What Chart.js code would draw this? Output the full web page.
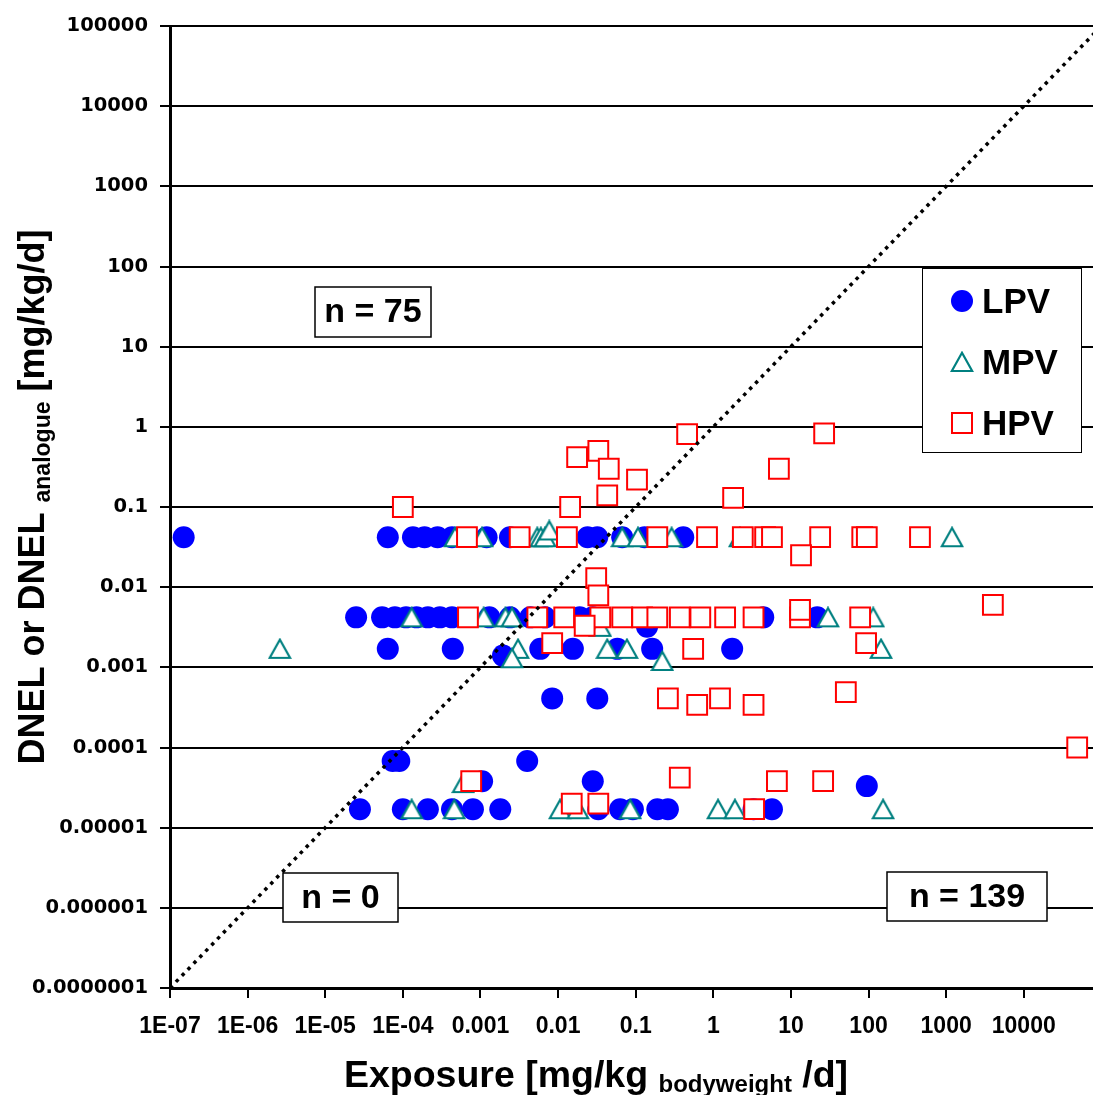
<!DOCTYPE html>
<html><head><meta charset="utf-8">
<script src="https://cdn.jsdelivr.net/npm/chart.js@4/dist/chart.umd.min.js"></script>
<style>html,body{margin:0;padding:0;background:#fff;overflow:hidden}#wrap{width:1093px;height:1095px;position:relative}canvas{display:block}</style>
</head><body><div id="wrap"><canvas id="c" width="1093" height="1095"></canvas></div>
<script>
// ---------- data ----------
const seriesNames = ["LPV", "MPV", "HPV"];

const lpvX = [1.5e-7, 6.4e-5, 1.35e-4, 1.9e-4, 2.8e-4, 4.3e-4, 1.2e-3, 2.4e-3, 0.024, 0.032, 0.067, 0.13, 0.41,
  2.5e-5, 5.4e-5, 7.9e-5, 1.1e-4, 1.5e-4, 2.1e-4, 3.0e-4, 4.3e-4, 1.3e-3, 2.4e-3, 4.4e-3, 6.8e-3, 0.019, 0.028, 4.4, 21.8,
  0.14, 6.4e-5, 4.4e-4, 1.95e-3, 5.9e-3, 0.0155, 0.058, 0.163, 1.75,
  8.4e-3, 0.032, 7.4e-5, 9.0e-5, 4.0e-3, 1.05e-3, 0.028, 95,
  2.8e-5, 1.0e-4, 2.1e-4, 4.3e-4, 8.0e-4, 1.8e-3, 0.033, 0.063, 0.092, 0.19, 0.26, 3.3, 5.7];
const lpvY = [0.042, 0.042, 0.042, 0.042, 0.042, 0.042, 0.042, 0.042, 0.042, 0.042, 0.042, 0.042, 0.042,
  0.0042, 0.0042, 0.0042, 0.0042, 0.0042, 0.0042, 0.0042, 0.0042, 0.0042, 0.0042, 0.0042, 0.0042, 0.0042, 0.0042, 0.0042, 0.0042,
  0.0032, 0.0017, 0.0017, 0.0014, 0.0017, 0.0017, 0.0017, 0.0017, 0.0017,
  4.1e-4, 4.1e-4, 6.8e-5, 6.8e-5, 6.8e-5, 3.8e-5, 3.8e-5, 3.3e-5,
  1.7e-5, 1.7e-5, 1.7e-5, 1.7e-5, 1.7e-5, 1.7e-5, 1.7e-5, 1.7e-5, 1.7e-5, 1.7e-5, 1.7e-5, 1.7e-5, 1.7e-5];

const mpvX = [4.7e-4, 1.05e-3, 5.4e-3, 6.0e-3, 6.8e-3, 7.7e-3, 0.067, 0.107, 0.29, 2.2, 1190,
  1.3e-4, 1.1e-3, 2.1e-3, 2.55e-3, 30, 115, 0.035,
  2.6e-6, 3.05e-3, 2.55e-3, 0.043, 0.077, 0.22, 145,
  6.0e-4,
  1.3e-4, 4.6e-4, 0.0106, 0.018, 0.085, 1.15, 1.9, 154];
const mpvY = [0.042, 0.042, 0.042, 0.042, 0.042, 0.051, 0.042, 0.042, 0.042, 0.042, 0.042,
  0.0042, 0.0042, 0.0042, 0.0042, 0.0042, 0.0042, 0.0032,
  0.0017, 0.0017, 0.0013, 0.0017, 0.0017, 0.0012, 0.0017,
  3.6e-5,
  1.7e-5, 1.7e-5, 1.7e-5, 1.7e-5, 1.7e-5, 1.7e-5, 1.7e-5, 1.7e-5];

const hpvX = [1.0e-4, 0.0176, 0.033, 0.045, 0.104, 0.043, 0.0143, 0.46, 1.8, 7.0, 26.8,
  6.7e-4, 3.2e-3, 0.013, 0.19, 0.83, 2.4, 4.65, 5.7, 23.8, 83, 95, 460,
  13.5,
  6.9e-4, 5.4e-3, 0.012, 0.035, 0.067, 0.121, 0.19, 0.37, 0.68, 1.42, 3.3, 13.1, 78,
  13.1, 0.022, 0.031, 0.033, 8.4e-3, 0.55, 93, 4000,
  0.26, 0.62, 1.22, 3.3, 51, 48800,
  7.6e-4, 0.37, 6.6, 26,
  0.015, 0.033, 3.36];
const hpvY = [0.10, 0.42, 0.50, 0.30, 0.22, 0.14, 0.10, 0.81, 0.13, 0.30, 0.83,
  0.042, 0.042, 0.042, 0.042, 0.042, 0.042, 0.042, 0.042, 0.042, 0.042, 0.042, 0.042,
  0.025,
  0.0042, 0.0042, 0.0042, 0.0042, 0.0042, 0.0042, 0.0042, 0.0042, 0.0042, 0.0042, 0.0042, 0.0042, 0.0042,
  0.0052, 0.0033, 0.013, 0.0079, 0.0020, 0.0017, 0.0020, 0.006,
  4.1e-4, 3.4e-4, 4.1e-4, 3.4e-4, 4.9e-4, 1.0e-4,
  3.8e-5, 4.2e-5, 3.8e-5, 3.8e-5,
  2.0e-5, 2.0e-5, 1.7e-5];

// 1:1 reference line (DNEL = exposure)
const refLine = [1e-7, 1e5];

const xTickVals = [1e-7, 1e-6, 1e-5, 1e-4, 1e-3, 1e-2, 1e-1, 1, 10, 100, 1000, 10000];
const xTickLabels = ["1E-07", "1E-06", "1E-05", "1E-04", "0.001", "0.01", "0.1", "1", "10", "100", "1000", "10000"];
const yTickVals = [1e-7, 1e-6, 1e-5, 1e-4, 1e-3, 1e-2, 1e-1, 1, 10, 100, 1000, 10000, 100000];
const yTickLabels = ["0.0000001", "0.000001", "0.00001", "0.0001", "0.001", "0.01", "0.1", "1", "10", "100", "1000", "10000", "100000"];

const countLabels = ["n = 75", "n = 0", "n = 139"];
const xTitleParts = ["Exposure [mg/kg ", "bodyweight", " /d]"];
const yTitleParts = ["DNEL or DNEL ", "analogue", " [mg/kg/d]"];

// ---------- styles ----------
const BLUE = "#0000FF", TEAL = "#008080", RED = "#FF0000";
function triCanvas() {
  const c = document.createElement("canvas");
  c.width = 24; c.height = 22;
  const g = c.getContext("2d");
  g.lineWidth = 2.2; g.strokeStyle = TEAL; g.fillStyle = "#fff"; g.lineJoin = "miter";
  g.beginPath(); g.moveTo(12, 1.8); g.lineTo(22.2, 20); g.lineTo(1.8, 20); g.closePath();
  g.fill(); g.stroke();
  return c;
}
const triImg = triCanvas();

const zip = (xs, ys) => xs.map((x, i) => ({ x: x, y: ys[i] }));

const FONT = "'Liberation Sans', Arial, sans-serif";

const overlay = {
  id: "overlay",
  afterDatasetsDraw(chart) {
    const ctx = chart.ctx;
    ctx.save();
    // count boxes
    const boxes = [[315, 287, 116, 50], [283, 873, 115, 49], [887, 872, 160, 49]];
    ctx.font = "bold 34px " + FONT;
    ctx.textAlign = "center"; ctx.textBaseline = "middle";
    boxes.forEach((b, i) => {
      ctx.fillStyle = "#fff"; ctx.fillRect(b[0], b[1], b[2], b[3]);
      ctx.strokeStyle = "#000"; ctx.lineWidth = 1.5; ctx.strokeRect(b[0], b[1], b[2], b[3]);
      ctx.fillStyle = "#000"; ctx.fillText(countLabels[i], b[0] + b[2] / 2, b[1] + b[3] / 2 + 1);
    });
    // legend
    ctx.fillStyle = "#fff"; ctx.fillRect(922, 268, 159, 184);
    ctx.strokeStyle = "#000"; ctx.lineWidth = 1; ctx.strokeRect(922.5, 268.5, 159, 184);
    const ly = [301, 362, 423];
    ctx.fillStyle = BLUE; ctx.beginPath(); ctx.arc(962, ly[0], 11, 0, Math.PI * 2); ctx.fill();
    ctx.drawImage(triImg, 962 - 12, ly[1] - 11);
    ctx.fillStyle = "#fff"; ctx.fillRect(952, ly[2] - 10, 20, 20);
    ctx.strokeStyle = RED; ctx.lineWidth = 2; ctx.strokeRect(952, ly[2] - 10, 20, 20);
    ctx.fillStyle = "#000"; ctx.font = "bold 35px " + FONT; ctx.textAlign = "left"; ctx.textBaseline = "alphabetic";
    seriesNames.forEach((n, i) => ctx.fillText(n, 982, ly[i] + 12));

    // x title
    const big = "bold 37.5px " + FONT, small = "bold 24px " + FONT;
    ctx.font = big; const w0 = ctx.measureText(xTitleParts[0]).width; const w2 = ctx.measureText(xTitleParts[2]).width;
    ctx.font = small; const w1 = ctx.measureText(xTitleParts[1]).width;
    let x = 596 - (w0 + w1 + w2) / 2; const by = 1087;
    ctx.font = big; ctx.fillText(xTitleParts[0], x, by); x += w0;
    ctx.font = small; ctx.fillText(xTitleParts[1], x, by + 5); x += w1;
    ctx.font = big; ctx.fillText(xTitleParts[2], x, by);

    // y title
    const bigY = "bold 36px " + FONT, smallY = "bold 23px " + FONT;
    ctx.font = bigY; const v0 = ctx.measureText(yTitleParts[0]).width; const v2 = ctx.measureText(yTitleParts[2]).width;
    ctx.font = smallY; const v1 = ctx.measureText(yTitleParts[1]).width;
    ctx.translate(44, 497); ctx.rotate(-Math.PI / 2);
    let t = -(v0 + v1 + v2) / 2;
    ctx.font = bigY; ctx.fillText(yTitleParts[0], t, 0); t += v0;
    ctx.font = smallY; ctx.fillText(yTitleParts[1], t, 6); t += v1;
    ctx.font = bigY; ctx.fillText(yTitleParts[2], t, 0);
    ctx.restore();
  }
};

new Chart(document.getElementById("c"), {
  type: "scatter",
  data: {
    datasets: [
      { label: "1:1", type: "line", data: zip(refLine, refLine), borderColor: "#000", borderWidth: 3.5,
        borderDash: [3.5, 5], pointRadius: 0, fill: false, order: 0, tension: 0 },
      { label: seriesNames[2], data: zip(hpvX, hpvY), pointStyle: "rect", pointRadius: 14,
        backgroundColor: "#fff", borderColor: RED, borderWidth: 2, order: 1 },
      { label: seriesNames[1], data: zip(mpvX, mpvY), pointStyle: triImg, pointRadius: 11, order: 2 },
      { label: seriesNames[0], data: zip(lpvX, lpvY), pointStyle: "circle", pointRadius: 11,
        backgroundColor: BLUE, borderColor: BLUE, borderWidth: 0, order: 3 }
    ]
  },
  options: {
    responsive: false, animation: false, devicePixelRatio: 1,
    events: [],
    layout: { autoPadding: false, padding: { top: 26, right: 0, left: 0, bottom: 0 } },
    plugins: { legend: { display: false }, tooltip: { enabled: false } },
    scales: {
      x: {
        type: "logarithmic", position: "bottom", min: 1e-7, max: 78000,
        afterBuildTicks: s => { s.ticks = xTickVals.map(v => ({ value: v })); },
        afterFit: s => { s.height = 107; s.paddingLeft = 0; s.paddingRight = 0; },
        grid: { drawOnChartArea: false, drawTicks: true, tickLength: 10, color: "#000", lineWidth: 2 },
        border: { display: true, color: "#000", width: 3 },
        ticks: { autoSkip: false, maxRotation: 0, minRotation: 0, color: "#000", padding: 15,
          font: { family: FONT, weight: "bold", size: 23 },
          callback: (v, i) => xTickLabels[i] }
      },
      y: {
        type: "logarithmic", position: "left", min: 1e-7, max: 1e5,
        afterBuildTicks: s => { s.ticks = yTickVals.map(v => ({ value: v })); },
        afterFit: s => { s.width = 170; s.paddingTop = 0; s.paddingBottom = 0; },
        grid: { drawOnChartArea: true, drawTicks: true, tickLength: 10, color: "#000", lineWidth: 2 },
        border: { display: true, color: "#000", width: 3 },
        ticks: { autoSkip: false, color: "#000", padding: 12,
          font: { family: "'DejaVu Sans', Verdana, sans-serif", weight: "bold", size: 19.5 },
          callback: (v, i) => yTickLabels[i] }
      }
    }
  },
  plugins: [overlay]
});
</script></body></html>
